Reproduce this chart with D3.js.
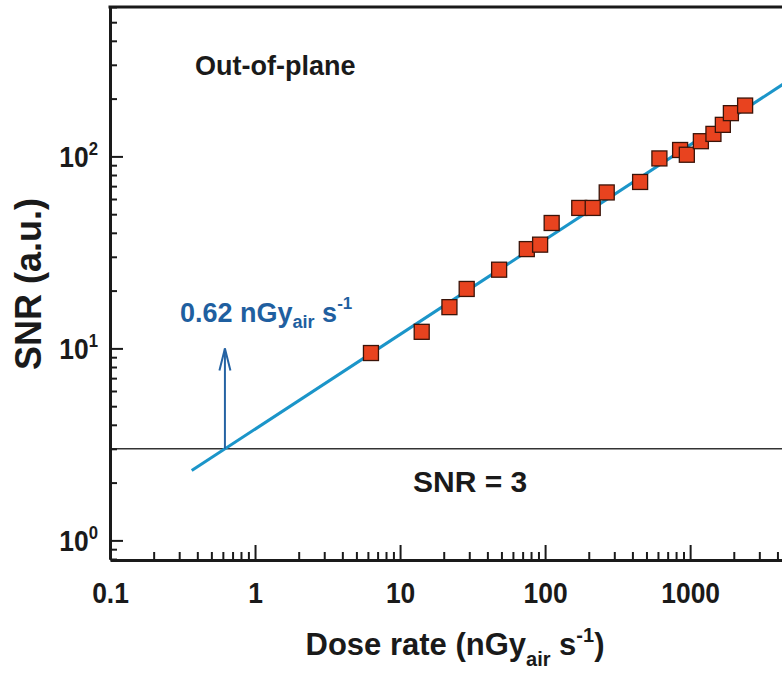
<!DOCTYPE html>
<html>
<head>
<meta charset="utf-8">
<script src="https://cdn.jsdelivr.net/npm/d3@7"></script>
<style>
  html, body { margin: 0; padding: 0; background: #fff; }
  svg { display: block; }
  text { font-family: "Liberation Sans", Arial, Helvetica, sans-serif; font-weight: bold; }
</style>
</head>
<body>
<svg id="chart" width="782" height="677"></svg>
<script>
// ---- data ----
const doseRate = [6.3, 14.1, 21.9, 28.8, 48.2, 74.8, 92.4, 111, 172, 213, 266, 452, 614, 853, 949, 1186, 1448, 1681, 1910, 2394];
const snr      = [9.46, 12.2, 16.4, 20.4, 25.7, 32.9, 34.7, 45.0, 53.9, 53.9, 64.9, 73.6, 97.6, 108, 102, 120, 131, 146, 168, 184];
const fitX = [0.366, 5000];
const fitY = [2.31, 254];
const threshold = 3;
const detectionLimit = 0.62;
const xTickLabels = ["0.1", "1", "10", "100", "1000"];
const yTickExponents = ["0", "1", "2"];

(function () {
// ---- layout ----
const svg = d3.select("#chart");
const mLeft = 110, mRight = 782, mTop = 7, mBottom = 559;

const x = d3.scaleLog().domain([0.1, 4300]).range([mLeft, mRight]);
const y = d3.scaleLog().domain([0.8, 600]).range([mBottom, mTop]);

svg.append("defs").append("clipPath").attr("id", "plotclip")
  .append("rect").attr("x", mLeft).attr("y", mTop).attr("width", mRight - mLeft).attr("height", mBottom - mTop);

const isMajor = d => Math.abs(Math.log10(d) - Math.round(Math.log10(d))) < 1e-9;

function logTicks(domain) {
  const out = [];
  for (let e = -2; e <= 4; e++) {
    for (let m = 1; m <= 9; m++) {
      const v = +(m * Math.pow(10, e)).toPrecision(6);
      if (v >= domain[0] - 1e-12 && v <= domain[1]) out.push(v);
    }
  }
  return out;
}

// ---- plot content ----
const plot = svg.append("g").attr("clip-path", "url(#plotclip)");

// SNR = 3 line
plot.append("line")
  .attr("x1", mLeft).attr("x2", mRight)
  .attr("y1", y(threshold)).attr("y2", y(threshold))
  .attr("stroke", "#333").attr("stroke-width", 1.5);

// fit line
const fitData = fitX.map((d, i) => [d, fitY[i]]);
plot.append("path")
  .datum(fitData)
  .attr("d", d3.line().x(d => x(d[0])).y(d => y(d[1])))
  .attr("fill", "none").attr("stroke", "#1b95c9").attr("stroke-width", 3);

// arrow at detection limit
const ax = x(detectionLimit);
const arrowTop = y(10);
svg.append("line")
  .attr("x1", ax).attr("x2", ax).attr("y1", y(threshold)).attr("y2", arrowTop)
  .attr("stroke", "#2563a3").attr("stroke-width", 2);
svg.append("path")
  .attr("d", `M${ax - 5.5},${arrowTop + 22} L${ax},${arrowTop} L${ax + 5.5},${arrowTop + 22}`)
  .attr("fill", "none").attr("stroke", "#2563a3").attr("stroke-width", 2);

// markers
const pts = doseRate.map((d, i) => ({ x: d, y: snr[i] }));
const sz = 15;
plot.selectAll("rect.pt").data(pts).enter().append("rect")
  .attr("class", "pt")
  .attr("x", d => x(d.x) - sz / 2).attr("y", d => y(d.y) - sz / 2)
  .attr("width", sz).attr("height", sz)
  .attr("fill", "#e8431f").attr("stroke", "#3b1409").attr("stroke-width", 1.3);

// ---- axes ----
const xTicks = logTicks(x.domain());
const xAxis = d3.axisBottom(x).tickValues(xTicks).tickSizeInner(-8).tickSizeOuter(0)
  .tickFormat(d => isMajor(d) ? xTickLabels[Math.round(Math.log10(d)) + 1] : "");
const gx = svg.append("g").attr("transform", `translate(0,${mBottom + 1})`).call(xAxis);
gx.select(".domain").attr("stroke", "#1a1a1a").attr("stroke-width", 3);
gx.selectAll(".tick line").attr("stroke", "#1a1a1a").attr("stroke-width", 2)
  .attr("y2", d => isMajor(d) ? -15 : -8);
gx.selectAll(".tick text").attr("y", 43).attr("dy", 0)
  .attr("transform", "scale(0.88,1)")
  .attr("font-size", 30).attr("fill", "#1a1a1a")
  .attr("font-family", "'Liberation Sans', Arial, sans-serif").attr("font-weight", "bold");

const yTicks = logTicks(y.domain());
const yAxis = d3.axisLeft(y).tickValues(yTicks).tickSizeInner(-7).tickSizeOuter(0).tickFormat("");
const gy = svg.append("g").attr("transform", `translate(${mLeft},0)`).call(yAxis);
gy.select(".domain").attr("stroke", "#1a1a1a").attr("stroke-width", 3);
gy.selectAll(".tick line").attr("stroke", "#1a1a1a").attr("stroke-width", 2)
  .attr("x2", d => isMajor(d) ? 13 : 7);
gy.selectAll(".tick").filter(d => isMajor(d)).each(function (d) {
  const t = d3.select(this).append("text")
    .attr("transform", "scale(0.88,1)")
    .attr("x", -12 / 0.88).attr("y", 10).attr("text-anchor", "end")
    .attr("fill", "#1a1a1a").attr("font-size", 30)
    .attr("font-family", "'Liberation Sans', Arial, sans-serif").attr("font-weight", "bold");
  t.append("tspan").text("10");
  t.append("tspan").attr("font-size", 19).attr("dy", -12)
    .text(yTickExponents[Math.round(Math.log10(d))]);
});

// top border
svg.append("line").attr("x1", mLeft - 1.5).attr("x2", mRight).attr("y1", mTop).attr("y2", mTop)
  .attr("stroke", "#1a1a1a").attr("stroke-width", 3);

// ---- texts ----
svg.append("text").attr("x", 195).attr("y", 75).attr("font-size", 27).attr("fill", "#1a1a1a")
  .text("Out-of-plane");

svg.append("text").attr("x", 413).attr("y", 492).attr("font-size", 30).attr("fill", "#1a1a1a")
  .text("SNR = 3");

const ann = svg.append("text").attr("x", 180).attr("y", 322).attr("font-size", 27).attr("fill", "#1f5fa0");
ann.append("tspan").text("0.62 nGy");
ann.append("tspan").attr("font-size", 18).attr("dy", 6).text("air");
ann.append("tspan").attr("font-size", 27).attr("dy", -6).text(" s");
ann.append("tspan").attr("font-size", 17).attr("dy", -13).text("-1");

const xt = svg.append("text").attr("x", 455).attr("y", 655).attr("text-anchor", "middle")
  .attr("font-size", 31).attr("fill", "#1a1a1a");
xt.append("tspan").text("Dose rate (nGy");
xt.append("tspan").attr("font-size", 20).attr("dy", 11).text("air");
xt.append("tspan").attr("font-size", 31).attr("dy", -11).text(" s");
xt.append("tspan").attr("font-size", 20).attr("dy", -13).text("-1");
xt.append("tspan").attr("font-size", 31).attr("dy", 13).text(")");

svg.append("text").attr("transform", "translate(41,284) rotate(-90)")
  .attr("text-anchor", "middle").attr("font-size", 36).attr("fill", "#1a1a1a")
  .text("SNR (a.u.)");
})();
</script>
</body>
</html>
